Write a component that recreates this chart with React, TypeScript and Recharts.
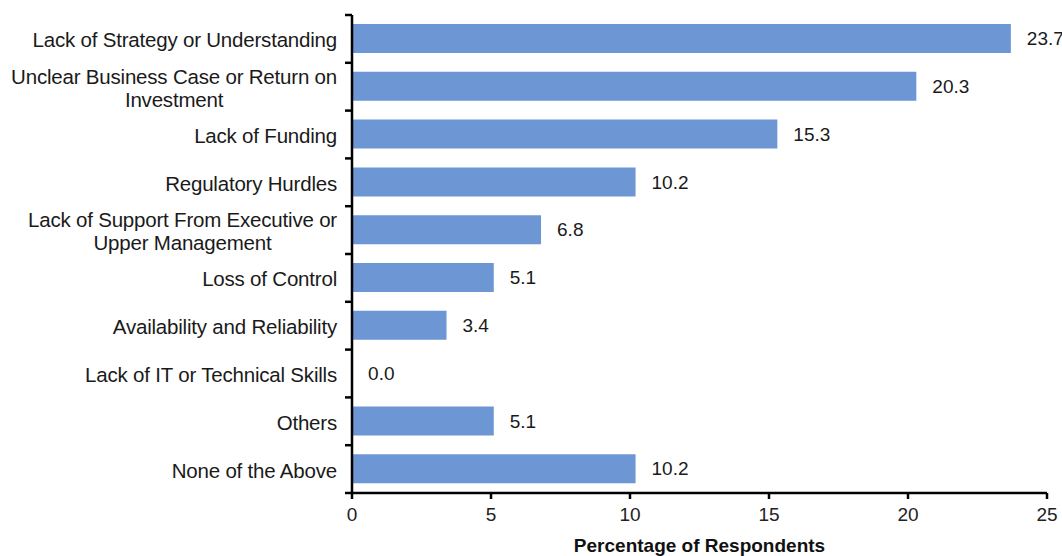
import React from "react";
import { BarChart, Bar, XAxis, YAxis, LabelList } from "recharts";

// categories (top to bottom) and percentage of respondents
const categories = [
  "Lack of Strategy or Understanding",
  "Unclear Business Case or Return on\nInvestment",
  "Lack of Funding",
  "Regulatory Hurdles",
  "Lack of Support From Executive or\nUpper Management",
  "Loss of Control",
  "Availability and Reliability",
  "Lack of IT or Technical Skills",
  "Others",
  "None of the Above",
];
const percentages = [23.7, 20.3, 15.3, 10.2, 6.8, 5.1, 3.4, 0.0, 5.1, 10.2];
const xTicks = [0, 5, 10, 15, 20, 25];

const data = categories.map((name, i) => ({ name, value: percentages[i] }));

const W = 1062;
const H = 556;
const M = { top: 15, right: 15, bottom: 0, left: 0 };
const X_AXIS_H = 63;
const Y_AXIS_W = 352;
const PLOT_H = H - M.top - M.bottom - X_AXIS_H;
const BAND = PLOT_H / categories.length;
const FONT = "'Liberation Sans', Arial, sans-serif";
const LABEL_SIZE = 20.5;
const LABEL_LS = -0.2;

let ctx: CanvasRenderingContext2D | null = null;
function measure(s: string) {
  if (!ctx) ctx = document.createElement("canvas").getContext("2d");
  if (!ctx) return s.length * LABEL_SIZE * 0.5;
  ctx.font = `${LABEL_SIZE}px ${FONT}`;
  return ctx.measureText(s).width + s.length * LABEL_LS;
}

function CategoryTick(props: any) {
  const { y, payload, index } = props;
  const lines: string[] = String(payload.value).split("\n");
  const right = Y_AXIS_W - 15;
  const axisX = Y_AXIS_W;
  const lineH = 23;
  const maxW = Math.max(...lines.map(measure));
  const multi = lines.length > 1;
  const tx = multi ? right - maxW / 2 : right;
  return (
    <g>
      <line x1={axisX - 7} x2={axisX} y1={y - BAND / 2} y2={y - BAND / 2} stroke="#000" strokeWidth={2.5} />
      {index === categories.length - 1 && (
        <line x1={axisX - 7} x2={axisX} y1={y + BAND / 2} y2={y + BAND / 2} stroke="#000" strokeWidth={2.5} />
      )}
      <text
        x={tx}
        y={y}
        textAnchor={multi ? "middle" : "end"}
        fill="#1a1a1a"
        fontSize={LABEL_SIZE}
        fontFamily={FONT}
        letterSpacing={LABEL_LS}
      >
        {lines.map((l, i) => (
          <tspan key={i} x={tx} y={y + (i - (lines.length - 1) / 2) * lineH + 1} dominantBaseline="central">
            {l}
          </tspan>
        ))}
      </text>
    </g>
  );
}

export default function App() {
  return (
    <div style={{ position: "fixed", left: 0, top: 0, background: "#fff" }}>
      <BarChart width={W} height={H} data={data} layout="vertical" margin={M}>
        <XAxis
          type="number"
          domain={[0, 25]}
          ticks={xTicks}
          interval={0}
          height={X_AXIS_H}
          axisLine={{ stroke: "#000", strokeWidth: 2.5 }}
          tickLine={{ stroke: "#000", strokeWidth: 2.5 }}
          tickSize={6}
          tickMargin={9}
          tick={{ fill: "#222", fontSize: 19, fontFamily: FONT }}
          label={{
            value: "Percentage of Respondents",
            position: "insideBottom",
            offset: 4,
            fill: "#111",
            fontSize: 19,
            fontWeight: "bold",
            fontFamily: FONT,
          }}
        />
        <YAxis
          type="category"
          dataKey="name"
          width={Y_AXIS_W}
          axisLine={{ stroke: "#000", strokeWidth: 2.5 }}
          tickLine={false}
          interval={0}
          tick={<CategoryTick />}
        />
        <Bar dataKey="value" fill="#6d96d4" barSize={29} minPointSize={0.1} isAnimationActive={false}>
          <LabelList
            dataKey="value"
            position="right"
            offset={16}
            formatter={(v: any) => Number(v).toFixed(1)}
            fill="#1a1a1a"
            fontSize={19}
            fontFamily={FONT}
          />
        </Bar>
      </BarChart>
    </div>
  );
}
